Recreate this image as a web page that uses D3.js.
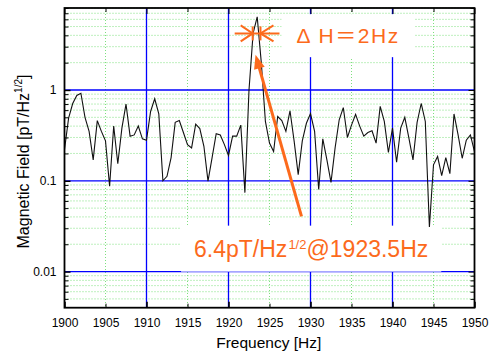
<!DOCTYPE html>
<html>
<head>
<meta charset="utf-8">
<script src="https://cdn.jsdelivr.net/npm/d3@7/dist/d3.min.js"></script>
<style>
  body { margin: 0; background: #fff; }
  svg { display: block; }
  text { font-family: "Liberation Sans", Arial, "Noto Sans CJK JP", sans-serif; }
</style>
</head>
<body>
<svg id="chart" width="490" height="353"></svg>
<script>
// sample frequencies [Hz]
const freqs = [
  1900, 1900.5, 1901, 1901.5, 1902, 1902.5, 1903, 1903.5, 1904, 1904.5,
  1905, 1905.5, 1906, 1906.5, 1907, 1907.5, 1908, 1908.5, 1909, 1909.5,
  1910, 1910.5, 1911, 1911.5, 1912, 1912.5, 1913, 1913.5, 1914, 1914.5,
  1915, 1915.5, 1916, 1916.5, 1917, 1917.5, 1918, 1918.5, 1919, 1919.5,
  1920, 1920.5, 1921, 1921.5, 1922, 1922.5, 1923, 1923.5, 1924, 1924.5,
  1925, 1925.5, 1926, 1926.5, 1927, 1927.5, 1928, 1928.5, 1929, 1929.5,
  1930, 1930.5, 1931, 1931.5, 1932, 1932.5, 1933, 1933.5, 1934, 1934.5,
  1935, 1935.5, 1936, 1936.5, 1937, 1937.5, 1938, 1938.5, 1939, 1939.5,
  1940, 1940.5, 1941, 1941.5, 1942, 1942.5, 1943, 1943.5, 1944, 1944.5,
  1945, 1945.5, 1946, 1946.5, 1947, 1947.5, 1948, 1948.5, 1949, 1949.5,
  1950
];
// magnetic field [pT/Hz^1/2]
const field = [
  0.22, 0.49, 0.71, 0.87, 0.92, 0.50, 0.35, 0.17, 0.46, 0.35,
  0.275, 0.087, 0.40, 0.154, 0.38, 0.70, 0.31, 0.32, 0.40, 0.29,
  0.28, 0.58, 0.80, 0.545, 0.10, 0.112, 0.18, 0.44, 0.46, 0.34,
  0.25, 0.23, 0.42, 0.376, 0.24, 0.099, 0.18, 0.33, 0.32, 0.25,
  0.19, 0.31, 0.31, 0.41, 0.074, 1.0, 4.2, 6.4, 2.0, 0.45,
  0.26, 0.21, 0.51, 0.46, 0.35, 0.59, 0.275, 0.117, 0.275, 0.43,
  0.55, 0.35, 0.08, 0.29, 0.17, 0.096, 0.23, 0.47, 0.64, 0.30,
  0.41, 0.54, 0.40, 0.31, 0.34, 0.355, 0.26, 0.66, 0.45, 0.205,
  0.38, 0.16, 0.38, 0.50, 0.295, 0.17, 0.44, 0.71, 0.45, 0.031,
  0.15, 0.185, 0.114, 0.18, 0.12, 0.545, 0.32, 0.177, 0.28, 0.32,
  0.21
];

const xMajor = [1900, 1910, 1920, 1930, 1940, 1950];
const xMinor = [1905, 1915, 1925, 1935, 1945];
const xLabels = [1900, 1905, 1910, 1915, 1920, 1925, 1930, 1935, 1940, 1945, 1950];
const yMajor = [0.01, 0.1, 1];
const yLabels = ["0.01", "0.1", "1"];
const yMinor = [0.005, 0.006, 0.007, 0.008, 0.009,
  0.02, 0.03, 0.04, 0.05, 0.06, 0.07, 0.08, 0.09,
  0.2, 0.3, 0.4, 0.5, 0.6, 0.7, 0.8, 0.9,
  2, 3, 4, 5, 6, 7, 8];

// annotation anchors (data units)
const dhLeft = 1922.95, dhRight = 1923.9, dhLevel = 4.2;
const arrowFrom = [1928.9, 0.0405], arrowTo = [1923.3, 2.44];
const dhTextAt = [1928.3, 3.28];
const peakTextAt = [1915.8, 0.0146];

const orange = "#fc6a1c";
const gridGreen = "#7ee07e";
const m = { left: 64.5, right: 474.5, top: 8, bottom: 307.7 };

const svg = d3.select("#chart");

const x = d3.scaleLinear().domain([1900, 1950]).range([m.left, m.right]);
const y = d3.scaleLog().domain([0.004, 8]).range([m.bottom, m.top]);

// grid
const grid = svg.append("g");
grid.selectAll(".gy").data(yMinor).join("line")
  .attr("x1", m.left).attr("x2", m.right)
  .attr("y1", d => y(d)).attr("y2", d => y(d))
  .attr("stroke", gridGreen).attr("stroke-dasharray", "1,2");
grid.selectAll(".gx").data(xMinor).join("line")
  .attr("y1", m.top).attr("y2", m.bottom)
  .attr("x1", d => x(d)).attr("x2", d => x(d))
  .attr("stroke", gridGreen).attr("stroke-dasharray", "1,2");
grid.selectAll(".by").data(yMajor).join("line")
  .attr("x1", m.left).attr("x2", m.right)
  .attr("y1", d => y(d)).attr("y2", d => y(d))
  .attr("stroke", "#0000ff").attr("stroke-width", 1.3);
grid.selectAll(".bx").data(xMajor.slice(1, -1)).join("line")
  .attr("y1", m.top).attr("y2", m.bottom)
  .attr("x1", d => x(d)).attr("x2", d => x(d))
  .attr("stroke", "#0000ff").attr("stroke-width", 1.3);

// white boxes behind the annotation texts go here
const boxes = svg.append("g");

// data line
const line = d3.line().x((d, i) => x(freqs[i])).y(d => y(d));
svg.append("path")
  .datum(field)
  .attr("d", line)
  .attr("fill", "none")
  .attr("stroke", "#111")
  .attr("stroke-width", 1.1);

// axes
function ticksOnly(g) {
  g.select(".domain").remove();
  g.selectAll(".tick line").attr("stroke", "#000");
}
svg.append("g").attr("transform", `translate(0,${m.bottom})`)
  .call(d3.axisBottom(x).tickValues(xMajor).tickSize(-6).tickFormat(""))
  .call(ticksOnly)
  .call(g => g.selectAll(".tick line").attr("stroke-width", 1.6));
svg.append("g").attr("transform", `translate(0,${m.bottom})`)
  .call(d3.axisBottom(x).tickValues(xMinor).tickSize(-4).tickFormat(""))
  .call(ticksOnly);
// labels every 5 Hz
svg.append("g").attr("transform", `translate(0,${m.bottom})`)
  .call(d3.axisBottom(x).tickValues(xLabels).tickSize(0).tickPadding(10.5).tickFormat(d3.format("d")))
  .call(g => g.select(".domain").remove())
  .call(g => g.selectAll(".tick line").remove())
  .call(g => g.selectAll("text").attr("font-size", 12).attr("font-family", null).attr("fill", "#000"));
svg.append("g").attr("transform", `translate(0,${m.top})`)
  .call(d3.axisTop(x).tickValues(xMajor).tickSize(-6).tickFormat(""))
  .call(ticksOnly);
svg.append("g").attr("transform", `translate(0,${m.top})`)
  .call(d3.axisTop(x).tickValues(xMinor).tickSize(-4).tickFormat(""))
  .call(ticksOnly);

svg.append("g").attr("transform", `translate(${m.left},0)`)
  .call(d3.axisLeft(y).tickValues(yMajor).tickSize(-6).tickPadding(8).tickFormat((d, i) => yLabels[i]))
  .call(ticksOnly)
  .call(g => g.selectAll(".tick line").attr("stroke-width", 1.4))
  .call(g => g.selectAll("text").attr("font-size", 12).attr("font-family", null).attr("fill", "#000"));
svg.append("g").attr("transform", `translate(${m.left},0)`)
  .call(d3.axisLeft(y).tickValues(yMinor).tickSize(-4).tickFormat(""))
  .call(ticksOnly);
svg.append("g").attr("transform", `translate(${m.right},0)`)
  .call(d3.axisRight(y).tickValues(yMajor).tickSize(-6).tickFormat(""))
  .call(ticksOnly);
svg.append("g").attr("transform", `translate(${m.right},0)`)
  .call(d3.axisRight(y).tickValues(yMinor).tickSize(-4).tickFormat(""))
  .call(ticksOnly);

// frame
svg.append("rect")
  .attr("x", m.left).attr("y", m.top)
  .attr("width", m.right - m.left).attr("height", m.bottom - m.top)
  .attr("fill", "none").attr("stroke", "#000").attr("stroke-width", 1.8);

// axis titles
svg.append("text")
  .attr("x", 268.8).attr("y", 348)
  .attr("text-anchor", "middle").attr("font-size", 15.5)
  .text("Frequency [Hz]");

const yt = svg.append("text")
  .attr("transform", "translate(29,161.5) rotate(-90)")
  .attr("text-anchor", "middle").attr("font-size", 16);
yt.append("tspan").text("Magnetic Field [pT/Hz");
yt.append("tspan").attr("font-size", 10).attr("dy", -7).text("1/2");
yt.append("tspan").attr("dy", 7).text("]");

// annotations
const ann = svg.append("g");

const dhText = ann.append("text")
  .attr("x", x(dhTextAt[0])).attr("y", y(dhTextAt[1]))
  .attr("font-size", 21).attr("letter-spacing", 1.6)
  .attr("fill", orange)
  .text("Δ H＝2Hz");

const pk = ann.append("text")
  .attr("x", x(peakTextAt[0])).attr("y", y(peakTextAt[1]))
  .attr("font-size", 23).attr("fill", orange);
pk.append("tspan").text("6.4pT/Hz");
pk.append("tspan").attr("font-size", 13).attr("dy", -8).attr("dx", 1).text("1/2");
pk.append("tspan").attr("dy", 8).text("@1923.5Hz");

// white boxes sized from the text extents
[[dhText, 15, 10], [pk, 13, 10]].forEach(([t, px, py]) => {
  const b = t.node().getBBox();
  const x0 = Math.max(m.left + 1, b.x - px), x1 = Math.min(m.right - 1, b.x + b.width + px);
  const y0 = Math.max(m.top + 1, b.y - py), y1 = Math.min(m.bottom - 1, b.y + b.height + py);
  boxes.append("rect")
    .attr("x", x0).attr("y", y0).attr("width", x1 - x0).attr("height", y1 - y0)
    .attr("fill", "#fff");
});

// ΔH width marker
const ly = y(dhLevel), lx = x(dhLeft), rx = x(dhRight);
const mk = ann.append("g").attr("stroke", orange).attr("stroke-width", 2).attr("fill", "none");
mk.append("line").attr("x1", lx - 18).attr("x2", rx + 19).attr("y1", ly).attr("y2", ly);
mk.append("line").attr("x1", lx).attr("x2", lx).attr("y1", ly - 7).attr("y2", ly + 7);
mk.append("line").attr("x1", rx).attr("x2", rx).attr("y1", ly - 7).attr("y2", ly + 7);
mk.append("path").attr("d", `M${lx - 12},${ly - 8}L${lx},${ly}L${lx - 12},${ly + 8}`);
mk.append("path").attr("d", `M${rx + 13},${ly - 8}L${rx},${ly}L${rx + 13},${ly + 8}`);

// arrow to the peak
const sx = x(arrowFrom[0]), sy = y(arrowFrom[1]);
const tx = x(arrowTo[0]), ty = y(arrowTo[1]);
const len = Math.hypot(tx - sx, ty - sy);
const ux = (tx - sx) / len, uy = (ty - sy) / len;
const headLen = 14, headW = 5.5;
ann.append("line")
  .attr("x1", sx).attr("y1", sy)
  .attr("x2", tx - ux * (headLen - 2)).attr("y2", ty - uy * (headLen - 2))
  .attr("stroke", orange).attr("stroke-width", 3);
const bx = tx - ux * headLen, by = ty - uy * headLen;
ann.append("path")
  .attr("d", `M${tx},${ty}L${bx - uy * headW},${by + ux * headW}L${bx + uy * headW},${by - ux * headW}Z`)
  .attr("fill", orange);
</script>
</body>
</html>
